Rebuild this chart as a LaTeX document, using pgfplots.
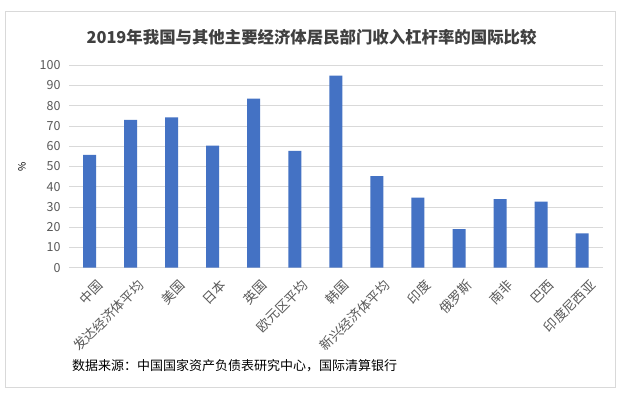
\documentclass[border=0pt]{standalone}
\usepackage{fontspec}
\setmainfont{Noto Sans CJK SC}
\usepackage{pgfplots}
\pgfplotsset{compat=1.18}
\definecolor{barblue}{HTML}{4472C4}
\definecolor{gridgray}{HTML}{D9D9D9}
\definecolor{txtgray}{HTML}{595959}
\definecolor{titlegray}{HTML}{404040}
\begin{document}
\begin{tikzpicture}[x=1pt,y=1pt]
\useasboundingbox (0,0) rectangle (624,394);
\fill[white] (0,0) rectangle (624,394);
\draw[gridgray, line width=0.8pt] (5,7) rectangle (615,383);
\node[font=\fontsize{16.4}{18}\selectfont\bfseries, text=titlegray] at (311.5,357) {2019年我国与其他主要经济体居民部门收入杠杆率的国际比较};
\node[font=\fontsize{13}{15}\selectfont, anchor=west, inner sep=0pt] at (72,28) {数据来源：中国国家资产负债表研究中心，国际清算银行};
\begin{axis}[
  at={(69pt,126.3pt)}, anchor=south west,
  scale only axis, width=533.7pt, height=202.4pt,
  xmin=-0.5, xmax=12.5, ymin=0, ymax=100,
  ytick={0,10,...,100},
  xtick={0,...,12},
  xticklabels={中国,发达经济体平均,美国,日本,英国,欧元区平均,韩国,新兴经济体平均,印度,俄罗斯,南非,巴西,印度尼西亚},
  xticklabel style={rotate=45, anchor=north east, inner sep=0pt, font=\fontsize{13.2}{15}\selectfont, text=txtgray, xshift=-3pt, yshift=-12pt},
  yticklabel style={font=\fontsize{12.5}{14}\selectfont, text=txtgray, xshift=-5pt},
  /pgf/number format/assume math mode=true,
  ymajorgrids, grid style={gridgray, line width=0.8pt},
  axis line style={draw=none},
  axis x line*=bottom, axis y line*=left,
  x axis line style={draw=gridgray, line width=0.8pt},
  y axis line style={draw=none},
  major tick length=0pt,
  ylabel={\%}, ylabel style={text=txtgray, font=\fontsize{13}{15}\selectfont},
  every axis y label/.style={at={(-47pt,101.2pt)}, rotate=90, anchor=center},
  clip=false,
]
\addplot[ybar, bar width=13pt, fill=barblue, draw=none] coordinates {
(0,55.8) (1,73.0) (2,74.3) (3,60.3) (4,83.5) (5,57.7) (6,94.9) (7,45.3) (8,34.6) (9,19.0) (10,33.9) (11,32.6) (12,17.0)
};
\end{axis}
\end{tikzpicture}
\end{document}
